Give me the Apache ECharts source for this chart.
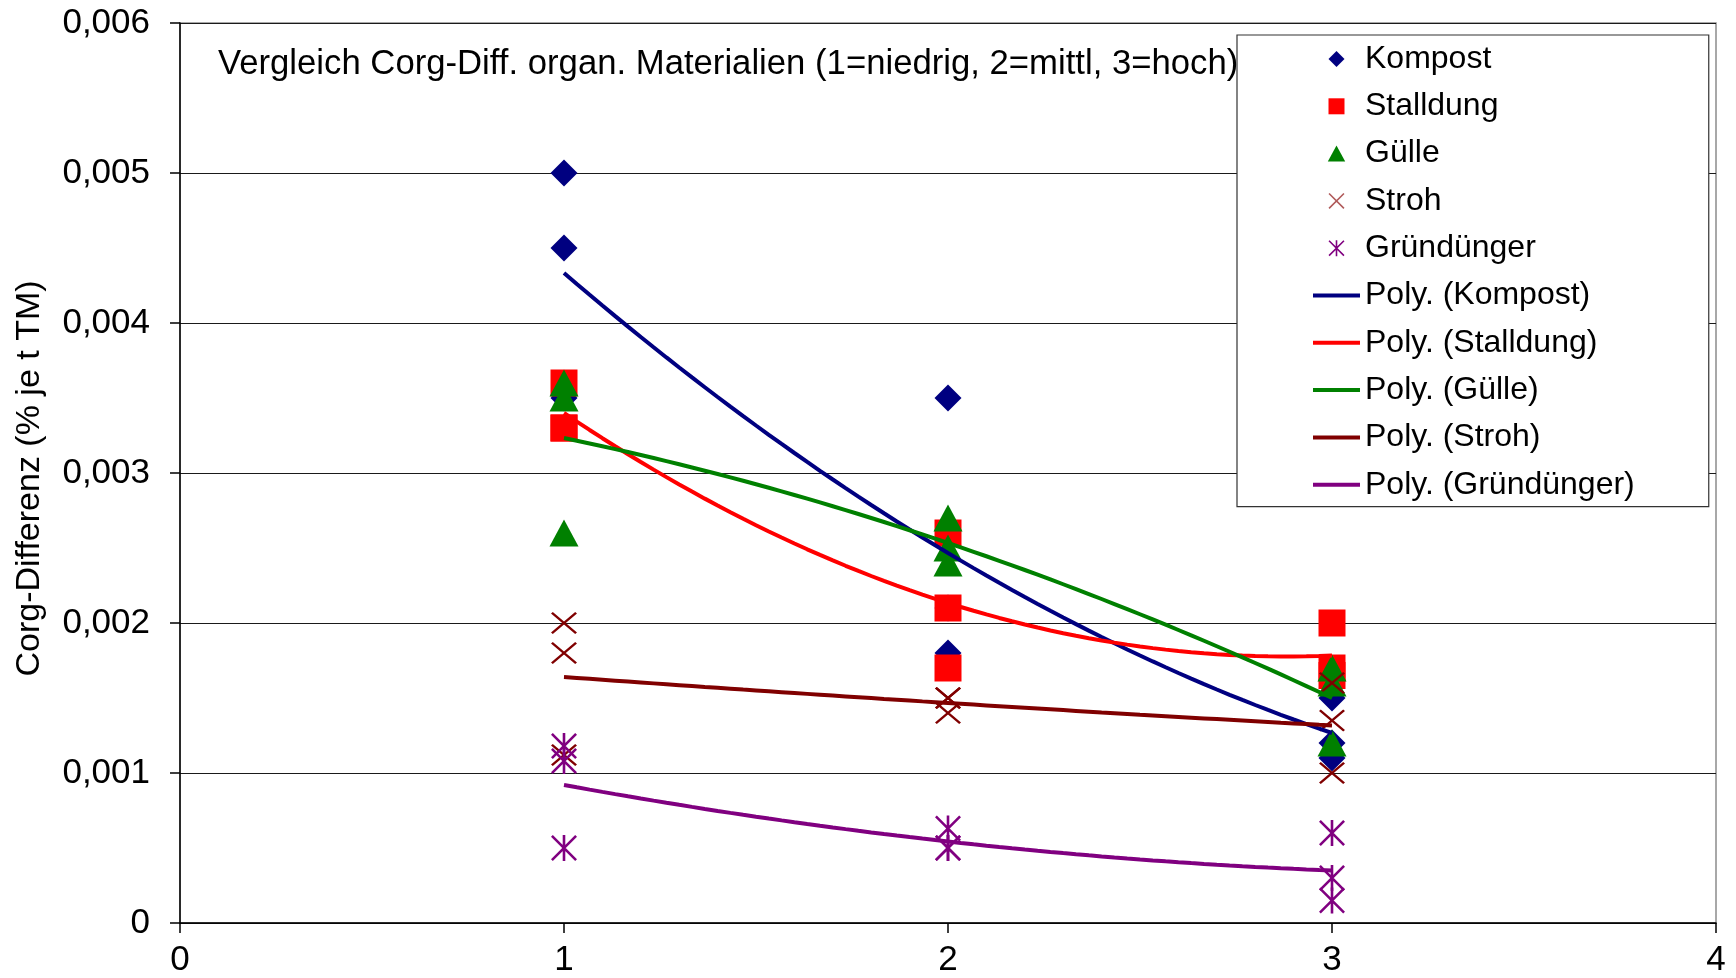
<!DOCTYPE html>
<html>
<head>
<meta charset="utf-8">
<title>Corg-Differenz organischer Materialien</title>
<script src="https://cdn.jsdelivr.net/npm/echarts@6/dist/echarts.min.js"></script>
<style>
  html, body { margin: 0; padding: 0; background: #fff; }
  #chart { width: 1736px; height: 978px; }
</style>
</head>
<body>
<div id="chart"></div>
<script>
// Stufe der Aufwandmenge: 1 = niedrig, 2 = mittel, 3 = hoch
const xTicks = [0, 1, 2, 3, 4];
const yTicks = [0, 0.001, 0.002, 0.003, 0.004, 0.005, 0.006];

// Einzelwerte [Stufe, Corg-Differenz (% je t TM)]
const kompost = [
  [1, 0.005], [1, 0.0045], [1, 0.0035],
  [2, 0.0035], [2, 0.0021], [2, 0.0018],
  [3, 0.0015], [3, 0.0012], [3, 0.0011]
];
const stalldung = [
  [1, 0.0036], [1, 0.0033], [1, 0.0033],
  [2, 0.0026], [2, 0.0021], [2, 0.0017],
  [3, 0.002], [3, 0.0017], [3, 0.00165]
];
const guelle = [
  [1, 0.0036], [1, 0.0035], [1, 0.0026],
  [2, 0.0027], [2, 0.0025], [2, 0.0024],
  [3, 0.0017], [3, 0.0016], [3, 0.0012]
];
const stroh = [
  [1, 0.002], [1, 0.0018], [1, 0.00112],
  [2, 0.0015], [2, 0.0015], [2, 0.0014],
  [3, 0.0016], [3, 0.00135], [3, 0.001]
];
const gruenduenger = [
  [1, 0.00118], [1, 0.00108], [1, 0.0005],
  [2, 0.00063], [2, 0.0005], [2, 0.0005],
  [3, 0.0006], [3, 0.0003], [3, 0.00015]
];

const FONT = '"Liberation Sans", Arial, sans-serif';

// Marker shapes: thin filled crosses
const SYMBOL_X = 'path://M0,7L7,0L100,93L93,100Z M93,0L100,7L7,100L0,93Z';
const SYMBOL_STAR = 'path://M0,7L7,0L100,93L93,100Z M93,0L100,7L7,100L0,93Z M45,0L55,0L55,100L45,100Z';

// Legend icons (kept at their own aspect inside the icon box)
const ICON_DIAMOND = 'path://M50,0L100,50L50,100L0,50Z';
const ICON_SQUARE = 'path://M0,0L100,0L100,100L0,100Z';
const ICON_TRIANGLE = 'path://M50,0L100,92L0,92Z';
const ICON_LINE = 'path://M0,0L470,0L470,40L0,40Z';

// Polynomial trend (order 2) by least squares, evaluated between x = 1 and x = 3
function polyFit2(points) {
  let s0 = 0, s1 = 0, s2 = 0, s3 = 0, s4 = 0, t0 = 0, t1 = 0, t2 = 0;
  points.forEach(([x, y]) => {
    s0 += 1; s1 += x; s2 += x * x; s3 += x * x * x; s4 += x * x * x * x;
    t0 += y; t1 += x * y; t2 += x * x * y;
  });
  const m = [[s0, s1, s2, t0], [s1, s2, s3, t1], [s2, s3, s4, t2]];
  for (let i = 0; i < 3; i++) {
    for (let k = i + 1; k < 3; k++) {
      const f = m[k][i] / m[i][i];
      for (let j = i; j < 4; j++) m[k][j] -= f * m[i][j];
    }
  }
  const c = [0, 0, 0];
  for (let i = 2; i >= 0; i--) {
    let s = m[i][3];
    for (let j = i + 1; j < 3; j++) s -= m[i][j] * c[j];
    c[i] = s / m[i][i];
  }
  return c;
}
function trendCurve(points) {
  const c = polyFit2(points);
  const xs = points.map(p => p[0]);
  const x0 = Math.min(...xs), x1 = Math.max(...xs);
  const out = [];
  const steps = 60;
  for (let i = 0; i <= steps; i++) {
    const x = x0 + (x1 - x0) * i / steps;
    out.push([x, c[0] + c[1] * x + c[2] * x * x]);
  }
  return out;
}

const materials = [
  { name: 'Kompost', data: kompost, color: '#000080', symbol: 'diamond', size: [27, 27], icon: ICON_DIAMOND },
  { name: 'Stalldung', data: stalldung, color: '#FF0000', symbol: 'rect', size: [27, 27], icon: ICON_SQUARE },
  { name: 'Gülle', data: guelle, color: '#008000', symbol: 'triangle', size: [29, 27], icon: ICON_TRIANGLE },
  { name: 'Stroh', data: stroh, color: '#800000', symbol: SYMBOL_X, size: [26, 22], icon: SYMBOL_X },
  { name: 'Gründünger', data: gruenduenger, color: '#800080', symbol: SYMBOL_STAR, size: [26, 26], icon: SYMBOL_STAR }
];

const series = [];
const legendData = [];
materials.forEach(m => {
  series.push({
    name: m.name,
    type: 'scatter',
    data: m.data,
    symbol: m.symbol,
    symbolSize: m.size,
    itemStyle: { color: m.color, opacity: 1 },
    z: 2,
    silent: true
  });
  legendData.push({ name: m.name, icon: m.icon, itemStyle: { color: m.name === 'Stroh' ? '#b05a5a' : m.color } });
});
materials.forEach(m => {
  const name = 'Poly. (' + m.name + ')';
  series.push({
    name: name,
    type: 'line',
    data: trendCurve(m.data),
    showSymbol: false,
    symbol: 'none',
    smooth: false,
    lineStyle: { color: m.color, width: 4 },
    itemStyle: { color: m.color },
    z: 3,
    silent: true
  });
  legendData.push({ name: name, icon: ICON_LINE, itemStyle: { color: m.color } });
});

const chart = echarts.init(document.getElementById('chart'), null, { renderer: 'canvas' });
chart.setOption({
  animation: false,
  backgroundColor: '#ffffff',
  textStyle: { fontFamily: FONT },
  grid: {
    left: 180, right: 20, top: 23, bottom: 54,
    show: true, borderColor: '#8c8c8c', borderWidth: 1.5, backgroundColor: 'transparent'
  },
  graphic: [{
    type: 'text',
    left: 218, top: 46.5,
    z: 1,
    style: {
      text: 'Vergleich Corg-Diff. organ. Materialien (1=niedrig, 2=mittl, 3=hoch)',
      font: '34.7px ' + FONT,
      fill: '#000'
    }
  }],
  legend: {
    orient: 'vertical',
    left: 1237, top: 35,
    padding: [8, 74, 6, 76],
    itemWidth: 47, itemHeight: 16, itemGap: 15.3,
    symbolKeepAspect: true,
    borderColor: '#333', borderWidth: 1.2,
    backgroundColor: '#ffffff',
    textStyle: { fontSize: 32, lineHeight: 32, color: '#000', fontFamily: FONT },
    data: legendData,
    selectedMode: false,
    z: 10
  },
  xAxis: {
    type: 'value',
    min: xTicks[0], max: xTicks[xTicks.length - 1], interval: 1,
    axisLine: { show: true, onZero: false, lineStyle: { color: '#000', width: 1.5 } },
    axisTick: { show: true, inside: false, length: 10, lineStyle: { color: '#000', width: 1.5 } },
    splitLine: { show: false },
    axisLabel: { fontSize: 35, color: '#000', margin: 20, fontFamily: FONT }
  },
  yAxis: {
    type: 'value',
    min: yTicks[0], max: yTicks[yTicks.length - 1], interval: 0.001,
    name: 'Corg-Differenz (% je t TM)',
    nameLocation: 'middle',
    nameGap: 133,
    nameRotate: 90,
    nameTextStyle: { fontSize: 34, color: '#000', fontFamily: FONT, padding: [0, 11, 0, 0] },
    axisLine: { show: true, onZero: false, lineStyle: { color: '#000', width: 1.5 } },
    axisTick: { show: true, inside: false, length: 10, lineStyle: { color: '#000', width: 1.5 } },
    splitLine: { show: true, lineStyle: { color: '#1a1a1a', width: 1.2 } },
    axisLabel: {
      fontSize: 35, color: '#000', margin: 30, fontFamily: FONT,
      formatter: v => {
        const r = Math.round(v * 1000) / 1000;
        return r === 0 ? '0' : r.toFixed(3).replace('.', ',');
      }
    }
  },
  series: series
});
</script>
</body>
</html>
